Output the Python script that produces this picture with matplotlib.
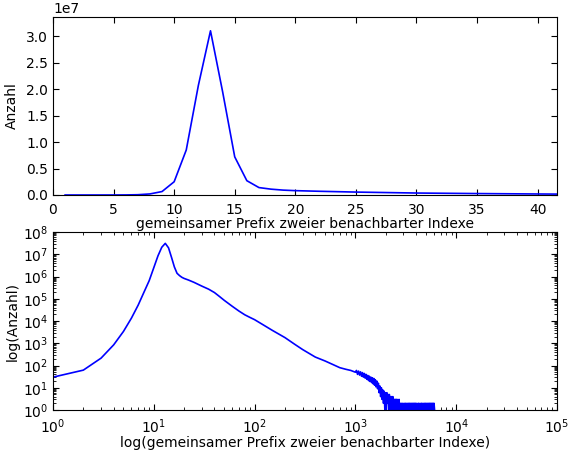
"""
Verteilung des gemeinsamen Prefix zweier benachbarter Indexe.

Oben linear (Anzahl), unten doppelt logarithmisch. Beide Achsen
zeigen dieselbe Messreihe.
"""

import matplotlib
matplotlib.use("Agg")
import matplotlib.pyplot as plt
from matplotlib.ticker import MultipleLocator, LogLocator

# der Auslauf zappelt zwischen 1 und 2 -> nicht wegvereinfachen lassen
plt.rcParams["path.simplify"] = False

# Hauptkurve: Prefix-Laenge -> Anzahl
prefix_len = [1, 2, 3, 4, 5, 6, 7, 8, 9, 10, 11, 12, 13, 14, 15, 16, 17, 18, 19,
              20, 22, 25, 30, 35, 40, 45, 50, 60, 70, 80, 90, 100, 120, 150,
              200, 250, 300, 400, 500, 600, 700, 800, 900, 1000]
anzahl = [30, 62, 215, 850, 3.4e3, 1.35e4, 5.2e4, 2.0e5, 6.5e5, 2.5e6, 8.5e6,
          2.07e7, 3.1e7, 1.95e7, 7.2e6, 2.7e6, 1.4e6, 1.1e6, 9.2e5,
          8.2e5, 7.0e5, 5.5e5, 3.7e5, 2.7e5, 1.9e5, 1.25e5, 8.5e4, 4.6e4,
          2.8e4, 1.9e4, 1.45e4, 1.15e4, 7.0e3, 3.8e3,
          1.8e3, 900, 520, 240, 160, 110, 80, 68, 60, 50]

# verrauschter Auslauf (nur noch wenige Treffer pro Laenge)
tail_len = [1025, 1050, 1075, 1100, 1125, 1150, 1175, 1200, 1225, 1250, 1275,
            1300, 1325, 1350, 1375, 1400, 1425, 1450, 1475, 1500, 1525, 1550,
            1575, 1600,
            1630, 1660, 1690, 1720, 1750, 1780, 1810, 1840, 1870, 1900, 1930,
            1960, 1990, 2020, 2050, 2080, 2110, 2140, 2170, 2200, 2230, 2260,
            2290, 2320, 2350, 2380, 2410, 2440, 2470, 2500, 2530, 2560, 2590,
            2620, 2650, 2680, 2710, 2740, 2770, 2800,
            2850, 2900, 2950, 3000, 3050, 3100, 3150, 3200, 3250, 3300, 3350,
            3400, 3450, 3500, 3550, 3600, 3650, 3700, 3750, 3800, 3850, 3900,
            3950, 4000,
            4075, 4150, 4225, 4300, 4375, 4450, 4525, 4600, 4675, 4750, 4825,
            4900, 4975, 5050, 5125, 5200, 5275, 5350, 5425, 5500, 5575, 5650,
            5725, 5800, 5875, 5950, 6025, 6100]
tail_anzahl = [60, 40, 56, 37, 52, 33, 48, 30, 44, 27, 40,
               24, 36, 21, 33, 19, 30, 17, 28, 15, 26, 13,
               23, 11,
               20, 9, 16, 6, 12, 4, 10, 3, 8, 2, 7,
               1, 6, 1, 6, 2, 5, 1, 5, 1, 4, 2,
               4, 1, 4, 1, 3, 2, 3, 1, 3, 1, 3,
               1, 2, 1, 3, 1, 2, 1,
               2, 1, 2, 1, 2, 1, 2, 1, 2, 1, 2,
               1, 2, 1, 2, 1, 2, 1, 2, 1, 2, 1,
               2, 1,
               2, 1, 2, 1, 2, 1, 2, 1, 2, 1, 2,
               1, 2, 1, 2, 1, 2, 1, 2, 1, 2, 1,
               2, 1, 2, 1, 2, 1]

x_all = prefix_len + tail_len
y_all = anzahl + tail_anzahl

FONT = 10
LINE = "b"
LW = 1.2


def style_axes(ax):
    ax.tick_params(which="both", direction="in", top=True, right=True,
                   labelsize=FONT)
    ax.tick_params(axis="x", which="both", pad=5.5)
    ax.tick_params(axis="y", which="both", pad=3.5)
    ax.tick_params(which="major", length=4)
    ax.tick_params(which="minor", length=2)


fig = plt.figure(figsize=(5.71, 4.54), dpi=100, facecolor="white")
ax1 = fig.add_axes([0.0928, 0.5705, 0.8827, 0.392])
ax2 = fig.add_axes([0.0928, 0.0969, 0.8827, 0.392])

# oben: linear
ax1.plot(x_all, y_all, color=LINE, linewidth=LW)
ax1.set_xlim(0, 41.6)
ax1.set_ylim(0, 3.36e7)
ax1.xaxis.set_major_locator(MultipleLocator(5))
ax1.yaxis.set_major_locator(MultipleLocator(0.5e7))
ax1.set_xlabel("gemeinsamer Prefix zweier benachbarter Indexe", fontsize=FONT, labelpad=0)
ax1.set_ylabel("Anzahl", fontsize=FONT, labelpad=5)
style_axes(ax1)
ax1.yaxis.get_offset_text().set_fontsize(FONT)

# unten: log-log
ax2.loglog(x_all, y_all, color=LINE, linewidth=LW)
ax2.set_xlim(1, 1e5)
ax2.set_ylim(1, 1e8)
ax2.yaxis.set_major_locator(LogLocator(base=10, numticks=20))
ax2.yaxis.set_minor_locator(LogLocator(base=10, subs=range(2, 10), numticks=100))
ax2.set_xlabel("log(gemeinsamer Prefix zweier benachbarter Indexe)", fontsize=FONT, labelpad=0)
ax2.set_ylabel("log(Anzahl)", fontsize=FONT, labelpad=2)
style_axes(ax2)

fig.savefig("out.png", dpi=100, facecolor=fig.get_facecolor())
plt.close(fig)
